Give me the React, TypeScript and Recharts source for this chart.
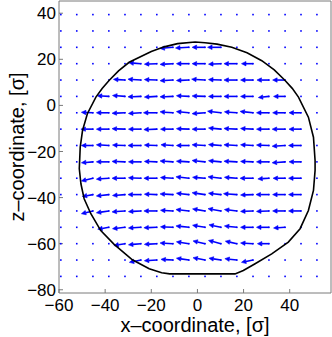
import { ScatterChart, Scatter, XAxis, YAxis, ReferenceLine, Label } from "recharts"

// grid of the vector field (x across, z down the rows)
const xCols = [-59.2, -52.3, -45.3, -38.4, -31.4, -24.5, -17.6, -10.6, -3.7, 3.3, 10.2, 17.1, 24.1, 31.0, 38.0, 44.9, 51.8]
const zRows = [39.4, 32.3, 25.2, 18.1, 11.0, 3.9, -3.2, -10.3, -17.4, -24.5, -31.6, -38.7, -45.8, -52.9, -60.0, -67.1, -74.2]

// rows that carry arrows, and the first column index of each
const arrowRow = [2, 3, 4, 5, 6, 7, 8, 9, 10, 11, 12, 13, 14, 15]
const arrowFirstCol = [7, 5, 4, 3, 2, 2, 2, 2, 2, 2, 2, 3, 4, 5]

// vector components (u along x, v along z)
const arrowU = [
  [-5.6, -5.8, -5.6, -5.8],
  [-5.2, -5.4, -5.6, -5.4, -5.6, -5.4, -5.6, -5.0],
  [-5.0, -5.6, -5.4, -5.6, -5.4, -5.8, -5.4, -5.6, -5.4, -5.2, -5.4],
  [-5.0, -5.4, -5.6, -5.4, -5.6, -5.4, -5.6, -5.4, -5.6, -5.4, -4.6, -5.0],
  [-5.0, -5.4, -5.6, -5.4, -5.8, -5.6, -5.4, -5.6, -5.8, -5.4, -5.6, -5.4, -5.4, -5.2],
  [-5.2, -5.4, -5.6, -5.4, -5.6, -5.4, -5.4, -5.6, -5.4, -5.6, -5.4, -5.4, -5.6, -5.2],
  [-5.0, -5.4, -5.4, -5.6, -5.4, -5.2, -5.4, -5.6, -5.4, -5.6, -5.4, -5.4, -5.6, -5.4],
  [-5.0, -5.4, -5.6, -5.4, -5.4, -5.6, -5.4, -5.6, -5.4, -5.6, -5.4, -5.4, -5.6, -5.2],
  [-5.0, -5.4, -5.6, -5.4, -5.6, -5.4, -5.6, -5.4, -5.6, -5.4, -5.6, -4.8, -5.2, -5.4],
  [-4.6, -5.4, -5.4, -5.6, -5.4, -5.6, -5.4, -5.6, -5.4, -5.8, -5.4, -5.6, -5.4, -5.4],
  [-5.0, -5.4, -5.6, -5.4, -5.6, -5.4, -5.6, -5.4, -5.6, -5.4, -5.4, -5.4, -5.4, -5.4],
  [-4.8, -5.4, -5.4, -5.6, -5.4, -5.6, -5.4, -5.2, -5.4, -5.4, -5.4, -5.0],
  [-4.8, -5.4, -5.4, -5.6, -5.4, -5.2, -5.4, -5.0, -5.4, -5.0],
  [-5.0, -5.4, -5.2, -5.4, -5.2, -5.2, -5.2, -5.0],
]
const arrowV = [
  [-0.5, -0.3, 0.0, 0.0],
  [0.4, -0.2, -0.3, 0.0, 0.0, -0.2, 0.0, 0.0],
  [0.3, 0.4, 0.2, -0.3, -0.2, 0.4, 0.2, 0.0, 0.0, 0.0, 0.0],
  [0.3, 0.4, -0.2, -0.3, -0.2, 0.3, 0.2, 0.0, 0.0, 0.0, -0.5, 0.0],
  [0.2, 0.0, -0.2, -0.3, 0.0, 0.4, 0.5, -0.4, 0.7, 0.4, 0.6, 0.0, 0.0, 0.0],
  [0.0, 0.0, 0.2, 0.0, -0.2, 0.0, 0.2, 0.0, 0.5, 0.3, 0.3, 0.0, 0.0, 0.0],
  [0.0, 0.3, 0.2, 0.0, 0.2, 0.3, 0.0, 0.3, 0.4, 0.3, 0.3, 0.2, -0.3, 0.0],
  [-0.4, 0.0, 0.2, 0.0, 0.2, 0.4, 0.3, 0.6, 0.5, 0.3, 0.2, 0.0, -0.4, 0.0],
  [-1.2, -0.4, 0.0, 0.2, 0.0, 0.3, 0.6, 0.4, 0.6, 0.4, 0.0, -0.3, 0.0, 0.0],
  [-0.8, -0.6, -0.4, 0.0, 0.2, 0.3, 0.6, 0.8, 0.6, 0.4, -0.2, 0.0, 0.0, 0.0],
  [-1.2, -0.8, -0.4, -0.3, 0.0, 0.3, 0.6, 0.9, 1.0, 0.6, -0.2, -0.2, 0.0, 0.0],
  [-0.8, -0.6, -0.3, -0.2, 0.2, 0.6, 0.9, 1.1, 0.6, 0.0, 0.0, -0.3],
  [-0.8, -0.5, -0.3, 0.3, 0.8, 1.2, 1.4, 1.1, 0.3, 0.0],
  [-1.0, -0.3, 0.3, 0.8, 1.0, 0.8, 0.6, -1.0],
]

// boundary curve
const outlineX = [3.3, 8.5, 14.9, 21.5, 27.9, 33.3, 37.8, 41.1, 43.8, 48.1, 50.3, 51.0, 51.0, 50.3, 48.1, 44.5, 39.4, 32.2, 25.0, 19.9, 16.3, -12.0, -15.5, -20.9, -28.2, -36.1, -41.9, -46.2, -49.1, -50.5, -51.2, -50.8, -49.8, -47.7, -44.0, -41.3, -38.3, -34.2, -29.6, -20.0, -14.4, -8.6, -1.0, 3.3]
const outlineZ = [27.2, 26.6, 25.2, 22.8, 19.4, 15.4, 11.0, 7.4, 3.6, -5.1, -13.8, -23.9, -28.2, -36.9, -45.6, -53.5, -59.3, -64.4, -68.7, -71.6, -73.1, -73.1, -72.6, -70.9, -67.0, -60.3, -54.3, -47.0, -40.5, -34.0, -27.5, -18.1, -10.9, -3.6, 3.6, 7.3, 10.8, 15.0, 18.7, 23.4, 25.4, 26.8, 27.5, 27.2]

const xTicks = [-60, -40, -20, 0, 20, 40]
const yTicks = [-80, -60, -40, -20, 0, 20, 40]

const gridPoints = zRows.flatMap((z) => xCols.map((x) => ({ x, y: z })))
const outline = outlineX.map((x, i) => ({ x, y: outlineZ[i] }))
const arrows = arrowRow.flatMap((r, i) =>
  arrowU[i].map((u, j) => {
    const x = xCols[arrowFirstCol[i] + j]
    const z = zRows[r]
    return { x, z, u, v: arrowV[i][j] }
  })
)

const fmt = (v: number) => (v < 0 ? `\u2212${Math.abs(v)}` : `${v}`)
const font = "'Liberation Sans', Arial, Helvetica, sans-serif"
const blue = "#0000ff"
const axisGray = "#7a7a7a"

function Arrow(props: any) {
  const { x1, y1, x2, y2 } = props
  if (![x1, y1, x2, y2].every(Number.isFinite)) return <g />
  const len = Math.hypot(x2 - x1, y2 - y1) || 1
  const ux = (x2 - x1) / len
  const uy = (y2 - y1) / len
  const hl = 4.5
  const hw = 2.2
  const bx = x2 - ux * hl
  const by = y2 - uy * hl
  return (
    <g>
      <line x1={x1} y1={y1} x2={bx} y2={by} stroke={blue} strokeWidth={1.6} />
      <polygon
        points={`${x2},${y2} ${bx - uy * hw},${by + ux * hw} ${bx + uy * hw},${by - ux * hw}`}
        fill={blue}
        stroke={blue}
        strokeWidth={0.6}
      />
    </g>
  )
}

export default function App() {
  return (
    <div style={{ position: "absolute", left: 0, top: 0, width: 332, height: 337, background: "#fff" }}>
      <ScatterChart width={332} height={337} margin={{ top: 0, right: 0, bottom: 0, left: 0 }} style={{ fontFamily: font }}>
        <XAxis
          type="number"
          dataKey="x"
          domain={[-60, 57.9]}
          ticks={xTicks}
          interval={0}
          allowDataOverflow
          height={44}
          stroke={axisGray}
          tickSize={-4}
          tickMargin={10}
          tick={{ fill: "#000", fontSize: 17 }}
          tickFormatter={fmt}
        >
          <Label value="x–coordinate, [σ]" position="insideBottom" offset={5} fontSize={20} fill="#000" />
        </XAxis>
        <XAxis
          xAxisId="t"
          orientation="top"
          type="number"
          domain={[-60, 57.9]}
          ticks={xTicks}
          interval={0}
          allowDataOverflow
          height={1}
          stroke={axisGray}
          tickSize={-4}
          tick={false}
        />
        <YAxis
          type="number"
          dataKey="y"
          domain={[-81.4, 45.3]}
          ticks={yTicks}
          interval={0}
          allowDataOverflow
          width={59}
          stroke={axisGray}
          tickSize={-4}
          tickMargin={7}
          tick={{ fill: "#000", fontSize: 17 }}
          tickFormatter={fmt}
        >
          <Label
            content={(p: any) => {
              const vb = p.viewBox || {}
              const cx = 24
              const cy = (vb.y ?? 0) + (vb.height ?? 0) / 2
              return (
                <text x={cx} y={cy} transform={`rotate(-90 ${cx} ${cy})`} textAnchor="middle" fontSize={20} fill="#000" fontFamily={font}>
                  z–coordinate, [σ]
                </text>
              )
            }}
          />
        </YAxis>
        <YAxis
          yAxisId="r"
          orientation="right"
          type="number"
          domain={[-81.4, 45.3]}
          ticks={yTicks}
          interval={0}
          allowDataOverflow
          width={1}
          stroke={axisGray}
          tickSize={-4}
          tick={false}
        />
        <Scatter
          data={gridPoints}
          isAnimationActive={false}
          shape={(p: any) => <rect x={p.cx - 0.8} y={p.cy - 0.8} width={1.6} height={1.6} fill={blue} />}
        />
        {arrows.map((a, i) => (
          <ReferenceLine
            key={i}
            ifOverflow="visible"
            segment={[
              { x: a.x, y: a.z },
              { x: a.x + a.u, y: a.z + a.v },
            ]}
            shape={Arrow}
          />
        ))}
        <Scatter
          data={outline}
          isAnimationActive={false}
          line={{ stroke: "#000", strokeWidth: 1.6 }}
          lineType="joint"
          shape={() => <g />}
        />
      </ScatterChart>
    </div>
  )
}
